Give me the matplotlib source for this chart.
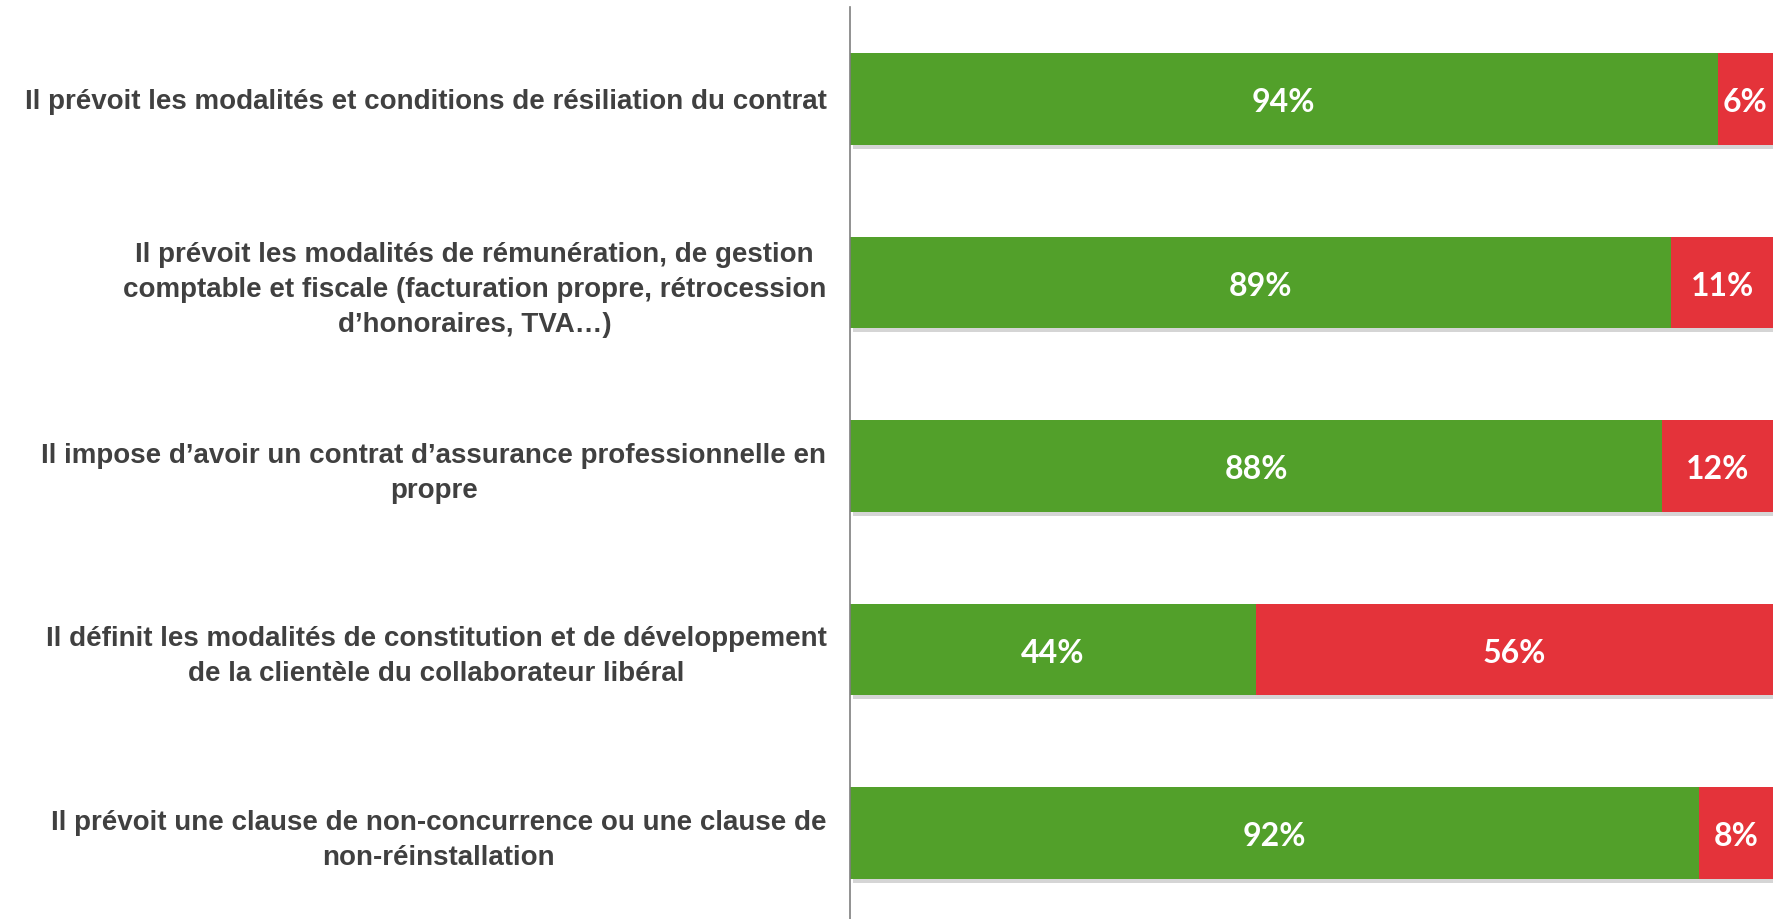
import numpy as np
import matplotlib.pyplot as plt
import matplotlib.patheffects as pe

categories = [
    "Il prévoit les modalités et conditions de résiliation du contrat",
    "Il prévoit les modalités de rémunération, de gestion\ncomptable et fiscale (facturation propre, rétrocession\nd\u2019honoraires, TVA\u2026)",
    "Il impose d\u2019avoir un contrat d\u2019assurance professionnelle en\npropre",
    "Il définit les modalités de constitution et de développement\nde la clientèle du collaborateur libéral",
    "Il prévoit une clause de non-concurrence ou une clause de\nnon-réinstallation",
]
oui = [94, 89, 88, 44, 92]
non = [6, 11, 12, 56, 8]

green = "#52A02A"
red = "#E4333A"

fig = plt.figure(figsize=(17.81, 9.19), dpi=100)
ax = fig.add_axes([850 / 1781, 0, (1773 - 850) / 1781, 1 - 7 / 919])

y = np.arange(len(categories))
# soft drop shadow under the bars
shadow = [pe.SimplePatchShadow(offset=(2, -3), alpha=0.22, shadow_rgbFace="#444444"), pe.Normal()]
ax.barh(y, oui, height=0.5, color=green, path_effects=shadow, zorder=2)
ax.barh(y, non, left=oui, height=0.5, color=red, path_effects=shadow, zorder=2)

for i in range(len(y)):
    ax.text(oui[i] / 2, y[i] + 0.02, f"{oui[i]}%", color="white", ha="center", va="center",
            fontsize=23, fontweight="bold", family="Lato", zorder=3)
    ax.text(oui[i] + non[i] / 2, y[i] + 0.02, f"{non[i]}%", color="white", ha="center", va="center",
            fontsize=23, fontweight="bold", family="Lato", zorder=3)

ax.set_xlim(0, 100)
ax.set_ylim(4.469, -0.501)
ax.set_yticks(y)
ax.set_yticklabels(categories, fontsize=20, fontweight="bold", color="#404040",
                   family="Liberation Sans", linespacing=1.45, ha="right")
ax.tick_params(axis="y", length=0, pad=17)
ax.set_xticks([])
for s in ["top", "right", "bottom"]:
    ax.spines[s].set_visible(False)
ax.spines["left"].set_color("#7f7f7f")
ax.spines["left"].set_linewidth(1.2)
for lab in ax.get_yticklabels():
    lab.set_multialignment("center")

fig.savefig("out.png", dpi=100)
